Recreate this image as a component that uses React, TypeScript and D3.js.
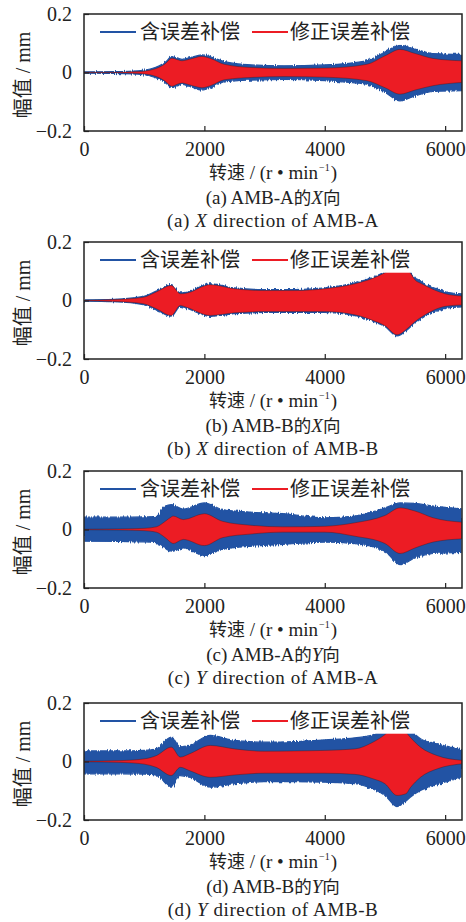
import React, { useRef, useEffect } from 'react';
import * as d3 from 'd3';

// envelope of the dense vibration signal (mm vs r/min)
const speedAX = [0, 500, 900, 1100, 1250, 1350, 1460, 1550, 1630, 1750, 1960, 2100, 2330, 2780, 3320, 4000, 4700, 5000, 5250, 5500, 5800, 6280];
const redUpAX = [0.001, 0.001, 0.003, 0.008, 0.018, 0.03, 0.049, 0.044, 0.04, 0.045, 0.055, 0.048, 0.028, 0.017, 0.014, 0.015, 0.028, 0.057, 0.079, 0.065, 0.048, 0.04];
const redLoAX = [-0.001, -0.001, -0.003, -0.008, -0.018, -0.03, -0.047, -0.04, -0.036, -0.042, -0.052, -0.045, -0.025, -0.017, -0.014, -0.016, -0.028, -0.052, -0.074, -0.06, -0.045, -0.034];
const blueUpAX = [0.002, 0.003, 0.006, 0.012, 0.023, 0.035, 0.054, 0.05, 0.045, 0.05, 0.06, 0.054, 0.037, 0.026, 0.023, 0.026, 0.04, 0.07, 0.093, 0.08, 0.065, 0.062];
const blueLoAX = [-0.002, -0.003, -0.006, -0.012, -0.023, -0.035, -0.052, -0.046, -0.041, -0.047, -0.06, -0.052, -0.032, -0.026, -0.024, -0.028, -0.04, -0.068, -0.097, -0.08, -0.065, -0.062];

const speedBX = [0, 500, 985, 1200, 1450, 1600, 1700, 2100, 2500, 3000, 3500, 4000, 4500, 4800, 5000, 5200, 5400, 5500, 5600, 5800, 6000, 6280];
const redUpBX = [0.001, 0.003, 0.011, 0.029, 0.051, 0.023, 0.025, 0.054, 0.04, 0.034, 0.034, 0.04, 0.057, 0.076, 0.095, 0.12, 0.1, 0.07, 0.058, 0.038, 0.023, 0.015];
const redLoBX = [-0.001, -0.003, -0.011, -0.028, -0.051, -0.017, -0.023, -0.051, -0.042, -0.038, -0.038, -0.038, -0.049, -0.068, -0.086, -0.117, -0.091, -0.072, -0.057, -0.034, -0.02, -0.015];
const blueUpBX = [0.002, 0.004, 0.014, 0.032, 0.054, 0.026, 0.028, 0.057, 0.043, 0.037, 0.037, 0.043, 0.06, 0.079, 0.098, 0.124, 0.104, 0.075, 0.063, 0.044, 0.03, 0.023];
const blueLoBX = [-0.002, -0.004, -0.014, -0.031, -0.054, -0.02, -0.026, -0.054, -0.045, -0.041, -0.041, -0.041, -0.052, -0.071, -0.089, -0.121, -0.095, -0.077, -0.062, -0.04, -0.027, -0.022];

const speedAY = [0, 600, 1000, 1200, 1350, 1450, 1480, 1650, 2000, 2300, 2800, 3300, 4000, 4500, 5000, 5250, 5500, 5800, 6280];
const redUpAY = [0.001, 0.002, 0.004, 0.009, 0.028, 0.043, 0.046, 0.034, 0.054, 0.028, 0.014, 0.009, 0.011, 0.023, 0.048, 0.074, 0.063, 0.04, 0.025];
const redLoAY = [-0.001, -0.002, -0.004, -0.009, -0.028, -0.045, -0.048, -0.034, -0.055, -0.028, -0.015, -0.009, -0.009, -0.023, -0.048, -0.082, -0.063, -0.043, -0.032];
const blueUpAY = [0.042, 0.042, 0.043, 0.045, 0.08, 0.085, 0.084, 0.07, 0.091, 0.068, 0.059, 0.054, 0.04, 0.046, 0.074, 0.091, 0.089, 0.08, 0.071];
const blueLoAY = [-0.04, -0.041, -0.042, -0.045, -0.065, -0.074, -0.074, -0.063, -0.089, -0.068, -0.057, -0.051, -0.043, -0.048, -0.074, -0.12, -0.097, -0.082, -0.078];

const speedBY = [0, 600, 1000, 1200, 1450, 1600, 1750, 2100, 2500, 3000, 3500, 4000, 4500, 4800, 5000, 5200, 5350, 5420, 5590, 5870, 6280];
const redUpBY = [0.001, 0.003, 0.009, 0.02, 0.049, 0.015, 0.026, 0.055, 0.043, 0.035, 0.036, 0.038, 0.043, 0.066, 0.092, 0.13, 0.1, 0.083, 0.049, 0.02, 0.004];
const redLoBY = [-0.001, -0.003, -0.009, -0.02, -0.048, -0.02, -0.031, -0.054, -0.046, -0.04, -0.04, -0.04, -0.044, -0.059, -0.076, -0.116, -0.11, -0.09, -0.054, -0.025, -0.008];
const blueUpBY = [0.036, 0.036, 0.038, 0.043, 0.083, 0.05, 0.055, 0.089, 0.072, 0.066, 0.068, 0.074, 0.081, 0.091, 0.11, 0.16, 0.13, 0.11, 0.078, 0.06, 0.04];
const blueLoBY = [-0.042, -0.042, -0.043, -0.046, -0.088, -0.048, -0.054, -0.088, -0.076, -0.069, -0.069, -0.071, -0.076, -0.094, -0.116, -0.154, -0.135, -0.122, -0.099, -0.079, -0.052];

const yTicks = [-0.2, 0, 0.2];
const xTicks = [0, 2000, 4000, 6000];
const legendLabels = ['含误差补偿', '修正误差补偿'];

const panels = [
  { letter: 'a', bearing: 'A', dir: 'X', speed: speedAX, redUp: redUpAX, redLo: redLoAX, blueUp: blueUpAX, blueLo: blueLoAX },
  { letter: 'b', bearing: 'B', dir: 'X', speed: speedBX, redUp: redUpBX, redLo: redLoBX, blueUp: blueUpBX, blueLo: blueLoBX },
  { letter: 'c', bearing: 'A', dir: 'Y', speed: speedAY, redUp: redUpAY, redLo: redLoAY, blueUp: blueUpAY, blueLo: blueLoAY },
  { letter: 'd', bearing: 'B', dir: 'Y', speed: speedBY, redUp: redUpBY, redLo: redLoBY, blueUp: blueUpBY, blueLo: blueLoBY },
];

const BLUE = '#2253a4';
const RED = '#ec1c24';
const INK = '#222';
const SERIF = '"Liberation Serif", "Times New Roman", "Noto Sans CJK SC", serif';
const CJK = '"Noto Sans CJK SC", sans-serif';

const App: React.FC = () => {
  const ref = useRef<SVGSVGElement | null>(null);

  useEffect(() => {
    if (!ref.current) return;
    const svg = d3.select(ref.current);
    svg.selectAll('*').remove();

    const left = 84;
    const right = 462;
    const plotH = 117;
    const tops = [14, 242, 471, 703];

    const x = d3.scaleLinear().domain([0, 6280]).range([left, right]);

    // rough edge for the dense blue signal
    const defs = svg.append('defs');
    const f = defs.append('filter').attr('id', 'fuzz').attr('x', '-5%').attr('y', '-20%').attr('width', '110%').attr('height', '140%');
    f.append('feTurbulence').attr('type', 'fractalNoise').attr('baseFrequency', '0.9 0.03').attr('numOctaves', 1).attr('seed', 3).attr('result', 'n');
    f.append('feDisplacementMap').attr('in', 'SourceGraphic').attr('in2', 'n').attr('scale', 4)
      .attr('xChannelSelector', 'A').attr('yChannelSelector', 'G');

    panels.forEach((p, i) => {
      const top = tops[i];
      const y = d3.scaleLinear().domain([-0.2, 0.2]).range([top + plotH, top]);
      const g = svg.append('g');

      const clipId = `clip-${i}`;
      defs.append('clipPath').attr('id', clipId)
        .append('rect').attr('x', left).attr('y', top).attr('width', right - left).attr('height', plotH);

      const idx = d3.range(p.speed.length);
      const blueArea = d3.area<number>()
        .x(k => x(p.speed[k]))
        .y0(k => y(p.blueLo[k]))
        .y1(k => y(p.blueUp[k]))
        .curve(d3.curveMonotoneX);
      const redArea = d3.area<number>()
        .x(k => x(p.speed[k]))
        .y0(k => y(p.redLo[k]))
        .y1(k => y(p.redUp[k]))
        .curve(d3.curveMonotoneX);

      const data = g.append('g').attr('clip-path', `url(#${clipId})`);
      data.append('g').attr('filter', 'url(#fuzz)')
        .append('path').datum(idx).attr('d', blueArea)
        .attr('fill', BLUE).attr('stroke', BLUE).attr('stroke-width', 1.2);
      data.append('path').datum(idx).attr('d', redArea)
        .attr('fill', RED).attr('stroke', '#3a1010').attr('stroke-width', 0.6).attr('stroke-opacity', 0.6);

      // legend sits on a white box over the curves
      g.append('rect').attr('x', 92).attr('y', top + 1).attr('width', 330).attr('height', y(0.095) - top - 1).attr('fill', '#fff');
      const legY = top + 18;
      g.append('line').attr('x1', 100).attr('x2', 136).attr('y1', legY).attr('y2', legY).attr('stroke', BLUE).attr('stroke-width', 2);
      g.append('text').attr('x', 140).attr('y', top + 25).attr('font-family', CJK).attr('font-size', 20).attr('fill', INK).text(legendLabels[0]);
      g.append('line').attr('x1', 252).attr('x2', 288).attr('y1', legY).attr('y2', legY).attr('stroke', RED).attr('stroke-width', 2);
      g.append('text').attr('x', 290).attr('y', top + 25).attr('font-family', CJK).attr('font-size', 20).attr('fill', INK).text(legendLabels[1]);

      // frame
      g.append('rect').attr('x', left).attr('y', top).attr('width', right - left).attr('height', plotH)
        .attr('fill', 'none').attr('stroke', INK).attr('stroke-width', 1.5);

      // x ticks (inward)
      g.append('g').attr('transform', `translate(0,${top + plotH})`)
        .call(d3.axisBottom(x).tickValues(xTicks).tickSizeInner(-5).tickSizeOuter(0).tickPadding(11).tickFormat(d => String(d)))
        .call(a => a.select('.domain').remove())
        .call(a => a.selectAll('line').attr('stroke', INK).attr('stroke-width', 1.2))
        .call(a => a.selectAll('text').attr('font-family', SERIF).attr('font-size', 20).attr('fill', INK));

      // y ticks (inward)
      g.append('g').attr('transform', `translate(${left},0)`)
        .call(d3.axisLeft(y).tickValues(yTicks).tickSizeInner(-5).tickSizeOuter(0).tickPadding(12)
          .tickFormat(d => (+d === 0 ? '0' : d3.format('.1f')(+d).replace('-', '−'))))
        .call(a => a.select('.domain').remove())
        .call(a => a.selectAll('line').attr('stroke', INK).attr('stroke-width', 1.2))
        .call(a => a.selectAll('text').attr('font-family', SERIF).attr('font-size', 20).attr('fill', INK));

      // y label
      const yl = g.append('text')
        .attr('transform', `translate(30,${top + 61}) rotate(-90)`)
        .attr('text-anchor', 'middle').attr('font-size', 20).attr('fill', INK);
      yl.append('tspan').attr('font-family', CJK).text('幅值');
      yl.append('tspan').attr('font-family', SERIF).text(' / mm');

      const cx = (left + right) / 2;
      // x label, superscript kept on its own baseline
      const xl = g.append('text').attr('x', cx).attr('y', top + plotH + 48)
        .attr('text-anchor', 'middle').attr('font-family', SERIF).attr('font-size', 19).attr('fill', INK);
      xl.append('tspan').attr('font-family', CJK).attr('font-size', 18).text('转速');
      xl.append('tspan').text(' / (r • min');
      xl.append('tspan').attr('font-size', 10).attr('dx', 1).attr('dy', -8).text('−1');
      xl.append('tspan').attr('dx', 1).attr('dy', 8).text(')');

      // captions
      const c1 = g.append('text').attr('x', cx).attr('y', top + plotH + 73)
        .attr('text-anchor', 'middle').attr('font-family', SERIF).attr('font-size', 19).attr('fill', INK);
      c1.append('tspan').text(`(${p.letter}) AMB-${p.bearing}`);
      c1.append('tspan').attr('font-family', CJK).attr('font-size', 17.5).text('的');
      c1.append('tspan').attr('font-style', 'italic').text(p.dir);
      c1.append('tspan').attr('font-family', CJK).attr('font-size', 17.5).text('向');

      const c2 = g.append('text').attr('x', cx).attr('y', top + plotH + 95.5)
        .attr('text-anchor', 'middle').attr('font-family', SERIF).attr('font-size', 19)
        .attr('letter-spacing', 0.6).attr('fill', INK);
      c2.append('tspan').text(`(${p.letter}) `);
      c2.append('tspan').attr('font-style', 'italic').text(p.dir);
      c2.append('tspan').text(` direction of AMB-${p.bearing}`);
    });
  }, []);

  return (
    <svg ref={ref} width={466} height={922}
      style={{ position: 'absolute', left: 0, top: 0, background: '#fff', display: 'block' }} />
  );
};

export default App;
